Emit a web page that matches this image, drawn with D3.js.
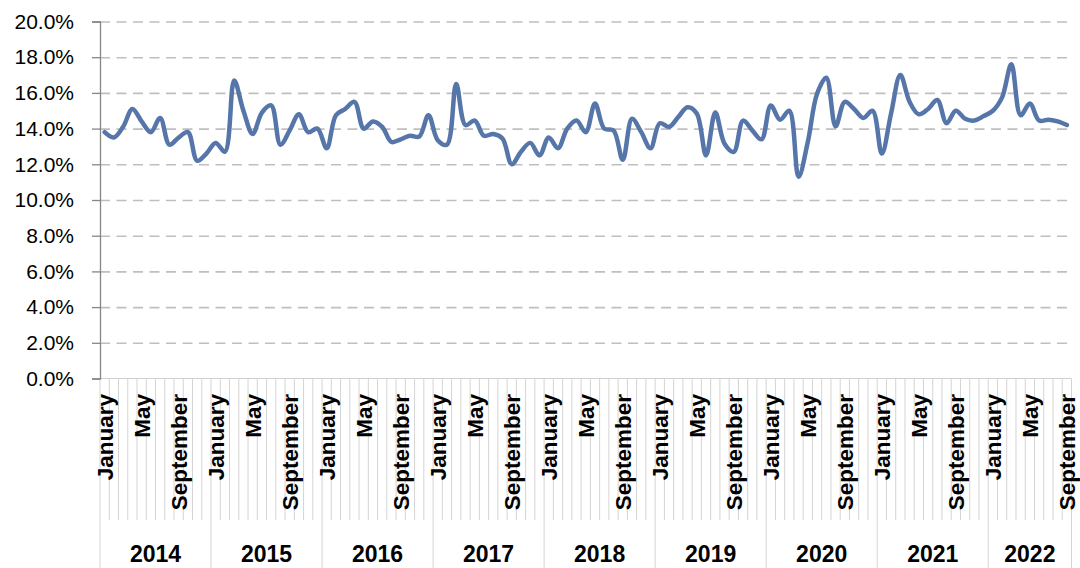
<!DOCTYPE html>
<html>
<head>
<meta charset="utf-8">
<script src="https://cdn.jsdelivr.net/npm/d3@7"></script>
<style>
  body { margin: 0; background: #fff; }
  svg { display: block; font-family: "Liberation Sans", Arial, sans-serif; }
</style>
</head>
<body>
<svg width="1080" height="568"></svg>
<script>
var years = [2014, 2015, 2016, 2017, 2018, 2019, 2020, 2021, 2022];
var monthNames = ["January", "February", "March", "April", "May", "June",
  "July", "August", "September", "October", "November", "December"];
var labelMonths = ["January", "May", "September"];
var yTicks = [0, 0.02, 0.04, 0.06, 0.08, 0.1, 0.12, 0.14, 0.16, 0.18, 0.2];

// monthly rate, percent
var rates = [
  13.8, 13.5, 14.1, 15.1, 14.4, 13.8, 14.6, 13.1, 13.5, 13.8, 12.2, 12.6,
  13.2, 12.7, 16.7, 15.0, 13.7, 14.9, 15.3, 13.1, 13.9, 14.8, 13.8, 14.0,
  12.9, 14.75, 15.1, 15.5, 14.0, 14.4, 14.1, 13.25, 13.4, 13.6, 13.55, 14.75,
  13.35, 13.1, 16.5, 14.2, 14.45, 13.6, 13.7, 13.45, 12.0, 12.7, 13.2, 12.5,
  13.5, 12.9, 14.0, 14.45, 13.8, 15.4, 14.0, 13.9, 12.25, 14.55, 13.8, 12.9,
  14.3, 14.1, 14.65, 15.2, 14.85, 12.5, 14.9, 13.15, 12.7, 14.45, 13.9, 13.4,
  15.3, 14.5, 15.0, 11.3, 13.25, 15.95, 16.85, 14.13, 15.5, 15.1, 14.6, 15.0,
  12.6, 14.85, 17.0, 15.5, 14.8, 15.1, 15.6, 14.3, 15.0, 14.55, 14.45, 14.7,
  15.0, 15.75, 17.6, 14.75, 15.4, 14.45, 14.5, 14.4, 14.2
];

var svg = d3.select("svg");
var plotLeft = 100, plotRight = 1071.5, plotTop = 21.5, plotBottom = 378.5;

var data = rates.map(function (v, i) {
  return { i: i, year: years[Math.floor(i / 12)], month: monthNames[i % 12], v: v / 100 };
});

var x = d3.scaleBand().domain(d3.range(data.length)).range([plotLeft, plotRight]);
var y = d3.scaleLinear().domain([0, 0.2]).range([plotBottom, plotTop]);

// dashed gridlines
svg.append("g")
  .attr("transform", "translate(" + plotLeft + ",0)")
  .call(d3.axisLeft(y).tickValues(yTicks.slice(1)).tickSize(-(plotRight - plotLeft)).tickFormat(""))
  .call(function (g) {
    g.select(".domain").remove();
    g.selectAll("line").attr("stroke", "#bfbfbf").attr("stroke-width", 1.6).attr("stroke-dasharray", "10,6.5");
  });

// month separators and year separators below the axis
var bounds = d3.range(data.length + 1);
svg.append("g").selectAll("line")
  .data(bounds)
  .enter()
  .append("line")
  .attr("x1", function (d) { return d < data.length ? x(d) : plotRight; })
  .attr("x2", function (d) { return d < data.length ? x(d) : plotRight; })
  .attr("y1", plotBottom)
  .attr("y2", function (d) { return (d % 12 === 0 || d === data.length) ? 568 : 520; })
  .attr("stroke", "#d4d4d4")
  .attr("stroke-width", 1);

svg.append("line")
  .attr("x1", plotLeft).attr("x2", plotRight)
  .attr("y1", plotBottom).attr("y2", plotBottom)
  .attr("stroke", "#d0d0d0");

// y axis
svg.append("g")
  .attr("transform", "translate(" + plotLeft + ",0)")
  .call(d3.axisLeft(y).tickValues(yTicks).tickSize(8).tickPadding(18).tickFormat(d3.format(".1%")))
  .call(function (g) {
    g.select(".domain").attr("stroke", "#868686").attr("stroke-width", 1.3);
    g.selectAll("line").attr("stroke", "#868686").attr("stroke-width", 1.3);
    g.selectAll("text").attr("font-size", 21).attr("fill", "#000")
      .attr("font-family", "Liberation Sans, Arial, sans-serif");
  });

// month labels
svg.append("g").selectAll("text")
  .data(data.filter(function (d) { return labelMonths.indexOf(d.month) >= 0; }))
  .enter()
  .append("text")
  .attr("transform", function (d) {
    return "translate(" + (x(d.i) + x.bandwidth() / 2) + ",394) rotate(-90)";
  })
  .attr("text-anchor", "end")
  .attr("dy", "0.36em")
  .attr("font-size", 22.5)
  .attr("font-weight", "bold")
  .text(function (d) { return d.month; });

// year labels
svg.append("g").selectAll("text")
  .data(years)
  .enter()
  .append("text")
  .attr("x", function (yr, k) {
    var first = k * 12;
    var last = Math.min(first + 11, data.length - 1);
    return (x(first) + x(last) + x.bandwidth()) / 2;
  })
  .attr("y", 562)
  .attr("text-anchor", "middle")
  .attr("font-size", 23)
  .attr("font-weight", "bold")
  .text(function (d) { return d; });

// the series
var line = d3.line()
  .x(function (d) { return x(d.i) + x.bandwidth() / 2; })
  .y(function (d) { return y(d.v); })
  .curve(d3.curveCatmullRom.alpha(0.5));

svg.append("path")
  .datum(data)
  .attr("fill", "none")
  .attr("stroke", "#5676a9")
  .attr("stroke-width", 4.5)
  .attr("stroke-linejoin", "round")
  .attr("stroke-linecap", "round")
  .attr("d", line);
</script>
</body>
</html>
